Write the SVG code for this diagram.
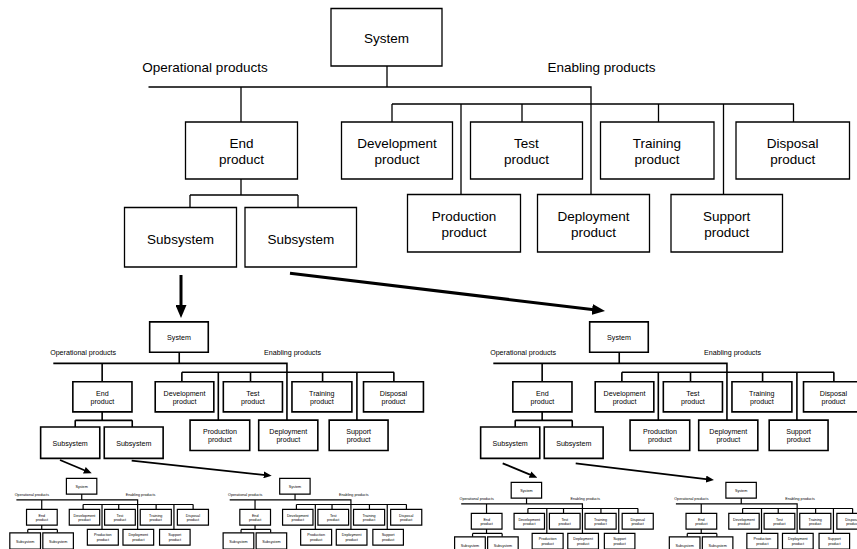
<svg xmlns="http://www.w3.org/2000/svg" xmlns:xlink="http://www.w3.org/1999/xlink" width="857" height="549" viewBox="0 0 857 549">
<style>
.b{fill:#fff;stroke:#000;vector-effect:non-scaling-stroke}
.l{fill:none;stroke:#000;vector-effect:non-scaling-stroke}
text{font-family:"Liberation Sans",Arial,sans-serif;font-size:13.5px;text-anchor:middle;fill:#000}
.a3{fill:none;stroke:#000;stroke-width:3}
.a1{fill:none;stroke:#000;stroke-width:1.8}
</style>
<defs>
<marker id="hb" markerUnits="userSpaceOnUse" markerWidth="13" markerHeight="11" refX="2" refY="5.5" orient="auto"><path d="M0,0 L13,5.5 L0,11 z" fill="#000"/></marker>
<marker id="hs" markerUnits="userSpaceOnUse" markerWidth="8" markerHeight="7" refX="2" refY="3.5" orient="auto"><path d="M0,0 L8,3.5 L0,7 z" fill="#000"/></marker>
</defs>
<rect width="857" height="549" fill="#fff"/>
<g stroke-width="1.3">
<g id="tree">
  <g id="wires">
    <path class="l" d="M387,66 V87 M148.5,87 H591 V194.5 M241,87 V122 M241,179 V195 M190,195 H298 M190,195 V207.5 M298,195 V207.5 M392,104 H794 M392,104 V122 M461,104 V194.5 M522,104 V122 M658.5,104 V122 M723.5,104 V194.5 M793.5,104 V122"/>
  </g>
  <g id="labels">
    <text x="205" y="71.5">Operational products</text>
    <text x="601.5" y="71.5">Enabling products</text>
  </g>
  <g id="system"><rect class="b" x="331" y="8.5" width="111" height="57.5"/><text x="386.5" y="43">System</text></g>
  <g id="end-product"><rect class="b" x="185.5" y="122" width="112" height="57"/><text x="241.5" y="148">End</text><text x="241.5" y="163.5">product</text></g>
  <g id="development"><rect class="b" x="341.5" y="122" width="111" height="57"/><text x="397" y="148">Development</text><text x="397" y="163.5">product</text></g>
  <g id="test"><rect class="b" x="470.5" y="122" width="112" height="57"/><text x="526.5" y="148">Test</text><text x="526.5" y="163.5">product</text></g>
  <g id="training"><rect class="b" x="600.5" y="122" width="113.5" height="57"/><text x="657" y="148">Training</text><text x="657" y="163.5">product</text></g>
  <g id="disposal"><rect class="b" x="736" y="122" width="113.5" height="57"/><text x="792.7" y="148">Disposal</text><text x="792.7" y="163.5">product</text></g>
  <g id="production"><rect class="b" x="407.5" y="194.5" width="113" height="57.5"/><text x="464" y="220.5">Production</text><text x="464" y="236.5">product</text></g>
  <g id="deployment"><rect class="b" x="537.5" y="194.5" width="112" height="57.5"/><text x="593.5" y="220.5">Deployment</text><text x="593.5" y="236.5">product</text></g>
  <g id="support"><rect class="b" x="671" y="194.5" width="111.5" height="57.5"/><text x="726.7" y="220.5">Support</text><text x="726.7" y="236.5">product</text></g>
  <g id="subsystem-1"><rect class="b" x="124.5" y="207.5" width="112" height="59.5"/><text x="180.5" y="244">Subsystem</text></g>
  <g id="subsystem-2"><rect class="b" x="245" y="207.5" width="111.5" height="59.5"/><text x="300.8" y="244">Subsystem</text></g>
</g>
</g>
<g id="copy-2L"><use xlink:href="#tree" href="#tree" stroke-width="1.6" transform="translate(-25.1 317.4) scale(0.528)"/></g>
<g id="copy-2R"><use xlink:href="#tree" href="#tree" stroke-width="1.6" transform="translate(414.9 317.4) scale(0.528)"/></g>
<g id="copy-3LL"><use xlink:href="#tree" href="#tree" stroke-width="1.2" transform="translate(-24.3 476) scale(0.274)"/></g>
<g id="copy-3LR"><use xlink:href="#tree" href="#tree" stroke-width="1.2" transform="translate(189 476) scale(0.274)"/></g>
<g id="copy-3RL"><use xlink:href="#tree" href="#tree" stroke-width="1.2" transform="translate(420.5 480) scale(0.274)"/></g>
<g id="copy-3RR"><use xlink:href="#tree" href="#tree" stroke-width="1.2" transform="translate(635.2 480) scale(0.274)"/></g>
<g id="connectors">
  <line class="a3" x1="181" y1="275" x2="181" y2="307" marker-end="url(#hb)"/>
  <line class="a3" x1="290" y1="273.3" x2="594.1" y2="309.7" marker-end="url(#hb)"/>
  <line class="a1" x1="60" y1="460" x2="86.2" y2="471" marker-end="url(#hs)"/>
  <line class="a1" x1="131.7" y1="460.7" x2="265.7" y2="475.1" marker-end="url(#hs)"/>
  <line class="a1" x1="502.7" y1="463.3" x2="531.8" y2="475.4" marker-end="url(#hs)"/>
  <line class="a1" x1="575.7" y1="463.3" x2="708" y2="479.3" marker-end="url(#hs)"/>
</g>
</svg>
